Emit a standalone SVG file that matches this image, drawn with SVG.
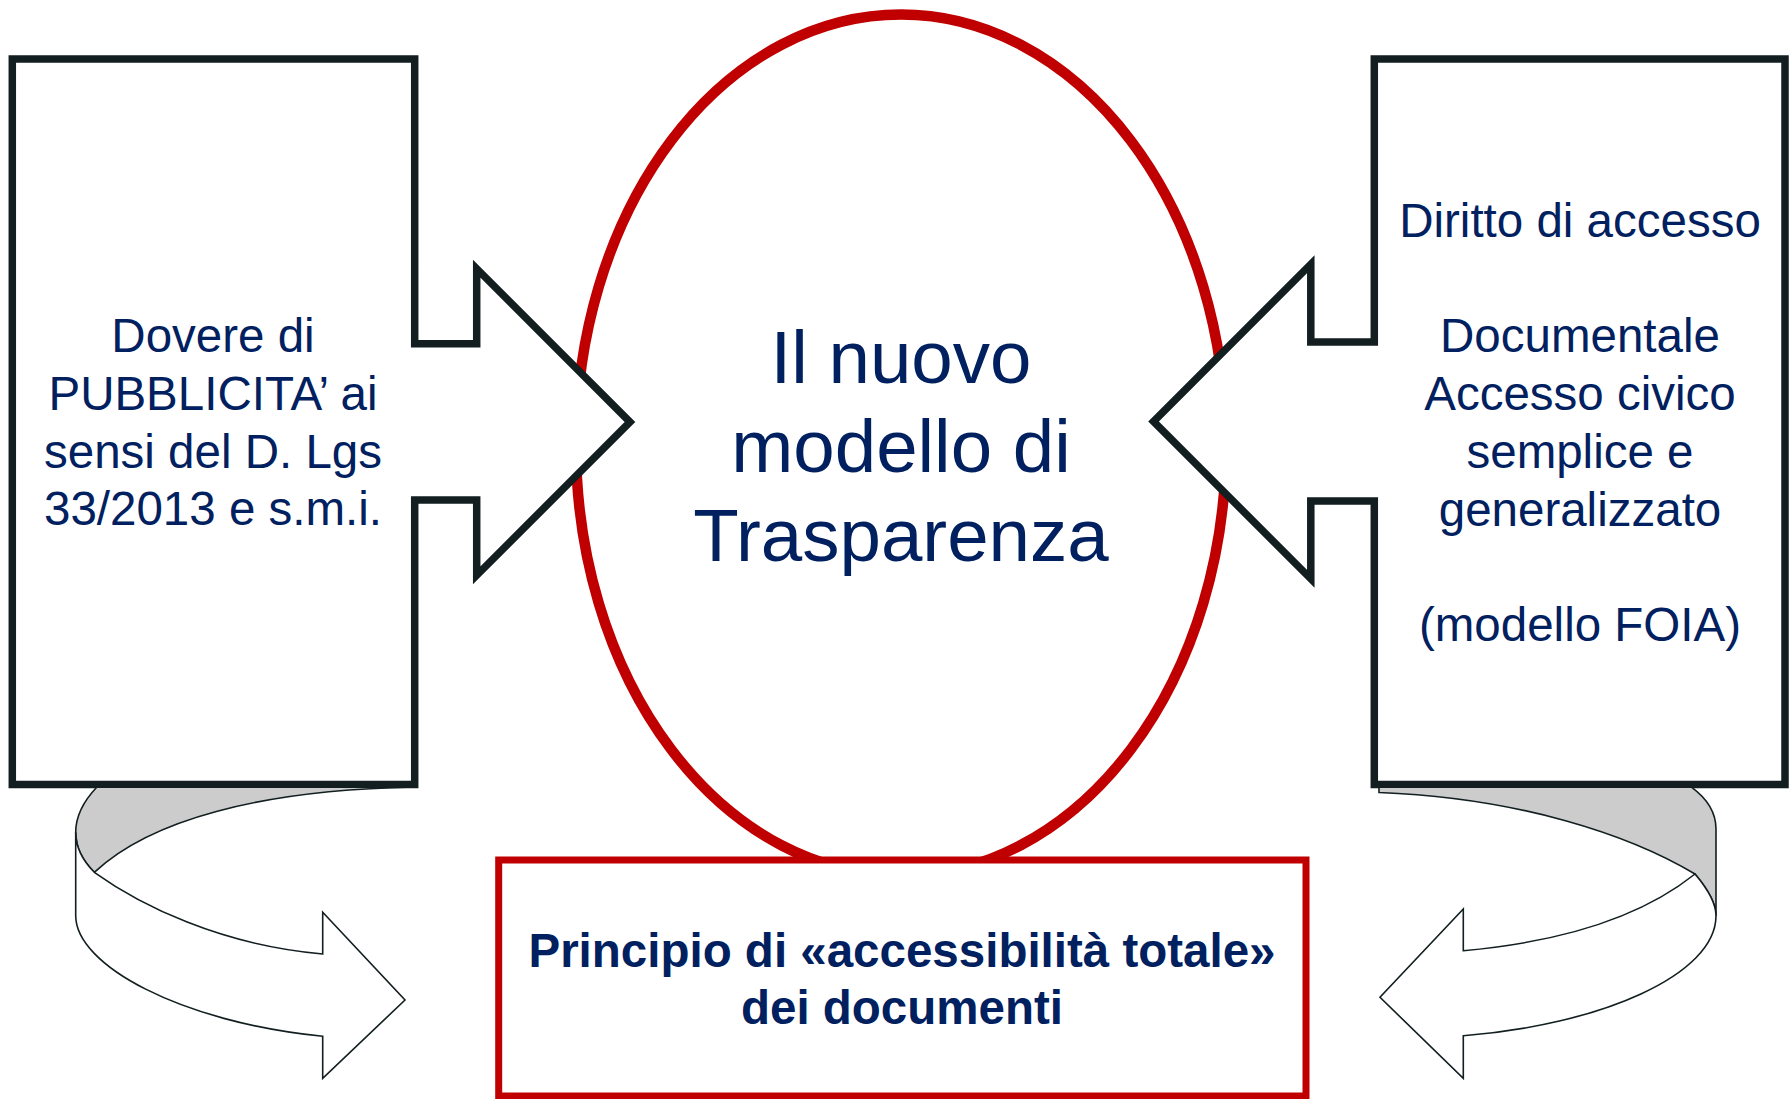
<svg xmlns="http://www.w3.org/2000/svg" width="1789" height="1099" viewBox="0 0 1789 1099">
<style>
.callout{fill:#ffffff;stroke:#121e20;stroke-width:7.5;stroke-linejoin:miter;stroke-miterlimit:10}
.ell{fill:#ffffff;stroke:#c00000;stroke-width:10.5}
.rbox{fill:#ffffff;stroke:#c00000;stroke-width:7}
.rib{fill:#ffffff;stroke:#121e20;stroke-width:1.6;stroke-linejoin:miter}
.back{fill:#cccccc;stroke:#121e20;stroke-width:1.6}
.t{font-family:"Liberation Sans",Arial,sans-serif;fill:#002060;text-anchor:middle}
.side{font-size:47.5px}
.big{font-size:74.5px}
.bold{font-size:47.5px;font-weight:bold}
</style>
<rect x="0" y="0" width="1789" height="1099" fill="#ffffff"/>

<g id="node-center">
<ellipse class="ell" cx="901" cy="445" rx="325" ry="430.5"/>
<text class="t big" x="901" y="383">Il nuovo</text>
<text class="t big" x="901" y="472">modello di</text>
<text class="t big" x="901" y="561">Trasparenza</text>
</g>

<g id="node-left">
<path class="callout" d="M12.3,59 L414.7,59 L414.7,343.8 L476.7,343.8 L476.7,268.7 L630,422 L476.7,575.3 L476.7,500 L414.7,500 L414.7,784.5 L12.3,784.5 Z"/>
<text class="t side" x="213" y="352">Dovere di</text>
<text class="t side" x="213" y="410">PUBBLICITA’ ai</text>
<text class="t side" x="213" y="467.7">sensi del D. Lgs</text>
<text class="t side" x="213" y="525">33/2013 e s.m.i.</text>
</g>

<g id="node-right">
<path class="callout" d="M1374.3,59 L1785,59 L1785,784.5 L1374.3,784.5 L1374.3,501 L1310.8,501 L1310.8,578.8 L1153.5,421.5 L1310.8,264.2 L1310.8,342 L1374.3,342 Z"/>
<text class="t side" x="1580" y="237">Diritto di accesso</text>
<text class="t side" x="1580" y="352.4">Documentale</text>
<text class="t side" x="1580" y="410">Accesso civico</text>
<text class="t side" x="1580" y="467.8">semplice e</text>
<text class="t side" x="1580" y="525.5">generalizzato</text>
<text class="t side" x="1580" y="640.8">(modello FOIA)</text>
</g>

<g id="node-bottom">
<rect class="rbox" x="498.7" y="860" width="807.3" height="236"/>
<text class="t bold" x="902" y="967">Principio di «accessibilità totale»</text>
<text class="t bold" x="902" y="1024">dei documenti</text>
</g>

<g id="connectors">
<g id="curved-left">
<path class="back" d="M96.7,787.3 C80,805 75.7,820 75.7,832.3 C75.7,848 82,860 94.3,872.3 C150,820 260,790 414,787 Z"/>
<path class="rib" d="M75.7,832.3 C75.7,848 82,860 94.3,872.3 C140,905 220,945 322.7,954 L322.7,912.3 L405,1000 L322.7,1078.3 L322.7,1036.3 C180,1022 75.7,965 75.7,915.7 Z"/>
</g>
<g id="curved-right">
<path class="back" d="M1379,787 L1379,792.5 C1520,798 1630,835 1695,874 C1706,887 1716,902 1716,915.7 L1716,829 C1716,810 1705,797 1691.7,787.3 Z"/>
<path class="rib" d="M1695,874 C1706,887 1716,902 1716,915.7 C1716,975 1600,1025 1463.3,1035.7 L1463.3,1078.3 L1380,997.3 L1463.3,909 L1463.3,950.7 C1560,942 1640,918 1695,874 Z"/>
</g>
</g>
</svg>
